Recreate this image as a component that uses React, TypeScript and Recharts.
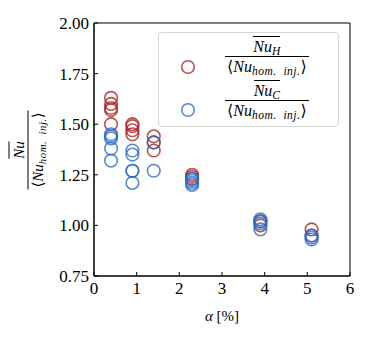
import React from "react";
import {
  ScatterChart,
  Scatter,
  XAxis,
  YAxis,
  ReferenceArea,
} from "recharts";

// alpha [%] and normalised Nusselt number, hot side
const hotX = [0.4, 0.4, 0.4, 0.4, 0.4, 0.9, 0.9, 0.9, 0.9, 1.4, 1.4, 1.4, 2.3, 2.3, 2.3, 3.9, 3.9, 5.1, 5.1];
const hotY = [1.63, 1.6, 1.58, 1.57, 1.5, 1.5, 1.49, 1.47, 1.45, 1.44, 1.41, 1.37, 1.25, 1.24, 1.23, 1.02, 1.0, 0.98, 0.95];

// cold side
const coldX = [0.4, 0.4, 0.4, 0.4, 0.4, 0.9, 0.9, 0.9, 0.9, 0.9, 1.4, 1.4, 2.3, 2.3, 2.3, 2.3, 3.9, 3.9, 3.9, 3.9, 5.1, 5.1, 5.1];
const coldY = [1.45, 1.44, 1.43, 1.38, 1.32, 1.37, 1.35, 1.27, 1.27, 1.21, 1.41, 1.27, 1.23, 1.22, 1.21, 1.2, 1.03, 1.02, 1.01, 0.98, 0.95, 0.94, 0.93];

const xTicks = [0, 1, 2, 3, 4, 5, 6];
const yTicks = [0.75, 1.0, 1.25, 1.5, 1.75, 2.0];

const RED = "#a8251f";
const BLUE = "#2a6bc8";
const FONT = "Liberation Serif, DejaVu Serif, serif";

const hotData = hotX.map((x, i) => ({ x, y: hotY[i] }));
const coldData = coldX.map((x, i) => ({ x, y: coldY[i] }));

const ring = (color: string) => (p: any) => (
  <circle
    cx={p.cx}
    cy={p.cy}
    r={6.3}
    fill="none"
    stroke={color}
    strokeWidth={1.6}
    strokeOpacity={0.8}
  />
);

const Frac = ({ sub, size = 16 }: { sub?: string; size?: number }) => (
  <div
    style={{
      display: "inline-flex",
      flexDirection: "column",
      alignItems: "center",
      fontFamily: FONT,
      fontStyle: "italic",
      fontSize: size,
      lineHeight: 1.1,
    }}
  >
    <span style={{ display: "inline-block", borderTop: "1px solid #000", paddingTop: 1 }}>
      Nu{sub ? <span style={{ fontSize: size * 0.72, position: "relative", top: 3 }}>{sub}</span> : null}
    </span>
    <span style={{ borderTop: "1px solid #000", padding: "1px 2px 0", whiteSpace: "nowrap" }}>
      <span style={{ fontStyle: "normal" }}>⟨</span>Nu
      <span style={{ fontSize: size * 0.72, position: "relative", top: 3, letterSpacing: 0.5 }}>hom. &nbsp;inj.</span>
      <span style={{ fontStyle: "normal" }}>⟩</span>
    </span>
  </div>
);

export default function App() {
  return (
    <div style={{ position: "absolute", left: 0, top: 0, width: 370, height: 340, background: "#fff" }}>
      <ScatterChart
        width={370}
        height={340}
        margin={{ top: 23, right: 20, bottom: 34, left: 34 }}
      >
        <XAxis
          type="number"
          dataKey="x"
          domain={[0, 6]}
          ticks={xTicks}
          height={30}
          stroke="#000"
          tickSize={-4}
          tickMargin={10}
          tick={{ fill: "#000", fontFamily: FONT, fontSize: 17 }}
        />
        <YAxis
          type="number"
          dataKey="y"
          domain={[0.75, 2]}
          ticks={yTicks}
          width={60}
          stroke="#000"
          tickSize={-4}
          tickMargin={9}
          tickFormatter={(v: number) => v.toFixed(2)}
          tick={{ fill: "#000", fontFamily: FONT, fontSize: 17 }}
        />
        <ReferenceArea x1={0} x2={6} y1={0.75} y2={2} fill="none" stroke="#000" strokeOpacity={1} />
        <Scatter data={hotData} shape={ring(RED)} isAnimationActive={false} />
        <Scatter data={coldData} shape={ring(BLUE)} isAnimationActive={false} />
      </ScatterChart>

      {/* legend */}
      <div
        style={{
          position: "absolute",
          left: 158,
          top: 32,
          width: 179,
          height: 93,
          border: "1.5px solid #d6d6d6",
          borderRadius: 4,
          background: "rgba(255,255,255,0.8)",
        }}
      >
        <svg style={{ position: "absolute", left: 0, top: 0 }} width={60} height={93}>
          <circle cx={29} cy={34} r={6.3} fill="none" stroke={RED} strokeWidth={1.6} strokeOpacity={0.8} />
          <circle cx={29} cy={77} r={6.3} fill="none" stroke={BLUE} strokeWidth={1.6} strokeOpacity={0.8} />
        </svg>
        <div style={{ position: "absolute", left: 66, top: 3 }}>
          <Frac sub="H" />
        </div>
        <div style={{ position: "absolute", left: 66, top: 47 }}>
          <Frac sub="C" />
        </div>
      </div>

      {/* y label */}
      <div
        style={{
          position: "absolute",
          left: 27,
          top: 150,
          transform: "translate(-50%, -50%) rotate(-90deg)",
          whiteSpace: "nowrap",
        }}
      >
        <Frac size={15} />
      </div>

      {/* x label */}
      <div
        style={{
          position: "absolute",
          left: 222,
          top: 316,
          transform: "translate(-50%, -50%)",
          fontFamily: FONT,
          fontSize: 15,
          whiteSpace: "nowrap",
        }}
      >
        <i>α</i> [%]
      </div>
    </div>
  );
}
